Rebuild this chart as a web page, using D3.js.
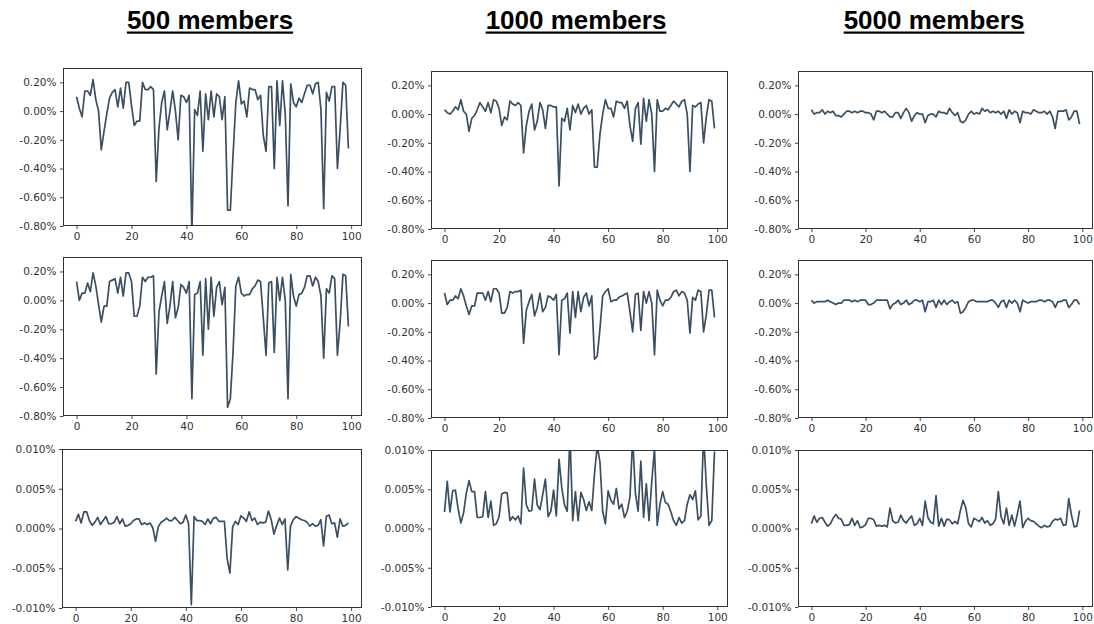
<!DOCTYPE html>
<html>
<head>
<meta charset="utf-8">
<script src="https://cdn.jsdelivr.net/npm/d3@7/dist/d3.min.js"></script>
<style>
  body { margin: 0; background: #ffffff; }
  svg { display: block; }
</style>
</head>
<body>
<svg id="chart" width="1094" height="624"></svg>
<script>
// ---- data (values in percent) ----
const steps = d3.range(100);
const groupTitles = ["500 members", "1000 members", "5000 members"];
const xTicks = [0, 20, 40, 60, 80, 100];
const yTicksWide = [-0.8, -0.6, -0.4, -0.2, 0, 0.2];
const yTicksNarrow = [-0.01, -0.005, 0, 0.005, 0.01];

// row 1
const m500a = [0.10,0.02,-0.04,0.14,0.14,0.11,0.22,0.08,0.00,-0.27,
  -0.14,-0.02,0.09,0.13,0.15,0.03,0.16,0.02,0.20,0.20,
  0.04,-0.10,-0.07,-0.07,0.20,0.15,0.15,0.17,0.15,-0.49,
  -0.12,0.06,0.14,-0.13,0.00,0.14,0.00,-0.20,0.11,0.10,
  0.06,0.11,-0.85,0.01,-0.03,0.14,-0.28,0.12,-0.06,0.14,
  -0.04,0.12,0.10,-0.06,0.10,-0.69,-0.69,-0.30,0.06,0.21,
  0.05,0.07,-0.04,0.16,0.15,0.15,0.08,0.11,-0.17,-0.28,
  0.17,0.17,-0.40,0.21,-0.10,0.21,-0.02,-0.66,0.19,0.06,
  0.03,0.09,0.06,0.12,0.18,0.18,0.12,0.19,0.20,0.01,
  -0.68,0.13,0.07,0.17,0.17,-0.40,-0.12,0.20,0.18,-0.26];
const m1000a = [0.03,0.01,0.00,0.02,0.05,0.03,0.10,0.02,0.00,-0.12,
  -0.03,-0.01,0.03,0.08,0.05,0.02,0.08,0.01,0.10,0.09,
  0.04,-0.08,-0.02,-0.04,0.09,0.07,0.06,0.08,0.06,-0.27,
  -0.08,0.02,0.07,-0.11,-0.05,0.08,0.03,-0.10,0.06,0.06,
  0.05,0.05,-0.50,-0.03,-0.05,0.04,-0.11,0.06,0.01,0.07,
  0.00,0.04,0.06,0.00,0.03,-0.37,-0.37,-0.14,0.00,0.10,
  0.04,0.04,-0.02,0.09,0.08,0.08,0.04,0.09,-0.08,-0.19,
  0.04,0.08,-0.21,0.11,-0.05,0.10,0.00,-0.40,0.10,0.02,
  0.02,0.04,0.03,0.06,0.09,0.07,0.05,0.09,0.10,0.00,
  -0.40,0.06,0.05,0.07,0.08,-0.20,-0.02,0.10,0.09,-0.10];
const m5000a = [0.03,0.00,0.01,0.01,0.03,0.00,0.02,0.01,0.02,-0.01,
  -0.01,-0.02,0.00,0.02,0.02,0.01,0.02,0.01,0.02,0.02,
  0.01,0.01,0.00,-0.04,0.02,0.02,0.01,0.02,0.00,-0.02,
  -0.02,0.01,0.01,-0.03,0.01,0.04,0.01,-0.05,-0.01,0.01,
  0.00,0.00,-0.06,-0.01,0.00,0.00,-0.02,0.02,0.01,0.01,
  0.00,0.04,0.01,-0.01,0.01,-0.05,-0.06,-0.04,0.00,0.02,
  0.00,0.01,0.00,0.04,0.02,0.03,0.01,0.02,0.01,0.02,
  0.00,0.02,-0.03,0.03,0.00,0.02,0.01,-0.06,0.02,0.01,
  0.01,0.00,0.03,0.02,0.01,0.01,0.02,0.00,0.02,-0.02,
  -0.10,0.02,0.02,0.02,0.03,-0.04,-0.02,0.02,0.02,-0.07];

// row 2
const m500b = [0.13,0.00,0.05,0.05,0.12,0.06,0.19,0.10,-0.03,-0.15,
  -0.04,-0.04,0.13,0.14,0.15,0.05,0.16,0.03,0.19,0.19,
  0.13,-0.11,-0.11,-0.04,0.16,0.13,0.16,0.16,0.17,-0.51,
  -0.08,0.03,0.13,-0.16,-0.04,0.13,-0.12,-0.05,0.11,0.09,
  0.05,0.13,-0.68,0.04,0.05,0.13,-0.38,0.15,-0.20,0.16,
  -0.11,0.09,0.13,-0.03,0.09,-0.74,-0.68,-0.35,0.10,0.16,
  0.05,0.03,0.04,0.04,0.08,0.10,0.14,0.13,-0.12,-0.38,
  0.12,0.13,-0.36,0.16,0.00,0.16,0.00,-0.68,0.18,0.03,
  -0.04,0.04,0.05,0.09,0.17,0.17,0.10,0.16,0.13,0.03,
  -0.40,0.08,0.05,0.17,0.15,-0.38,-0.15,0.18,0.17,-0.18];
const m1000b = [0.07,-0.01,0.02,0.02,0.05,0.03,0.10,0.05,-0.02,-0.08,
  -0.02,-0.02,0.07,0.07,0.07,0.02,0.08,0.01,0.10,0.10,
  0.07,-0.07,-0.07,-0.03,0.08,0.07,0.08,0.08,0.09,-0.28,
  -0.05,0.01,0.06,-0.09,-0.03,0.07,-0.06,-0.03,0.05,0.04,
  0.02,0.06,-0.36,0.02,0.03,0.07,-0.21,0.08,-0.10,0.08,
  -0.06,0.04,0.07,-0.02,0.05,-0.39,-0.37,-0.18,0.05,0.08,
  0.10,0.01,0.02,0.02,0.04,0.05,0.06,0.07,-0.06,-0.20,
  0.06,0.07,-0.19,0.08,0.00,0.08,0.00,-0.36,0.09,0.02,
  -0.02,0.02,0.02,0.04,0.08,0.09,0.05,0.08,0.07,0.02,
  -0.21,0.04,0.02,0.09,0.08,-0.20,-0.08,0.09,0.09,-0.10];
const m5000b = [0.02,0.00,0.01,0.01,0.01,0.01,0.02,0.01,0.00,-0.01,
  0.00,0.00,0.02,0.02,0.02,0.01,0.02,0.01,0.02,0.02,
  0.02,-0.01,-0.01,0.00,0.02,0.02,0.02,0.02,0.02,-0.04,
  -0.01,0.00,0.02,-0.01,0.00,0.02,-0.01,0.00,0.02,0.02,
  0.01,0.02,-0.06,0.01,0.01,0.02,-0.03,0.02,-0.01,0.02,
  -0.01,0.01,0.02,0.00,0.01,-0.07,-0.06,-0.03,0.01,0.02,
  0.02,0.01,0.01,0.01,0.01,0.01,0.02,0.02,0.00,-0.03,
  0.01,0.02,-0.03,0.02,0.00,0.02,0.00,-0.06,0.02,0.01,
  0.00,0.01,0.01,0.01,0.02,0.02,0.01,0.02,0.02,0.01,
  -0.03,0.01,0.01,0.02,0.02,-0.03,-0.01,0.02,0.02,-0.01];

// row 3
const m500c = [0.0009,0.0018,0.0007,0.0021,0.0021,0.0010,0.0004,0.0008,0.0014,0.0005,
  0.0010,0.0015,0.0006,0.0006,0.0008,0.0015,0.0006,0.0012,0.0003,0.0004,
  0.0006,0.0010,0.0012,0.0012,0.0005,0.0007,0.0005,0.0007,0.0001,-0.0016,
  0.0002,0.0008,0.0010,0.0013,0.0010,0.0010,0.0014,0.0010,0.0006,0.0008,
  0.0017,0.0006,-0.0096,0.0015,0.0010,0.0010,0.0009,0.0005,0.0012,0.0006,
  0.0013,0.0014,0.0009,0.0009,0.0009,-0.0038,-0.0056,0.0002,0.0009,0.0005,
  0.0016,0.0013,0.0009,0.0021,0.0010,0.0013,0.0005,0.0008,0.0007,0.0008,
  0.0022,0.0011,-0.0007,0.0004,0.0013,0.0005,0.0012,-0.0052,0.0003,0.0011,
  0.0015,0.0013,0.0011,0.0010,0.0008,0.0003,0.0006,0.0003,0.0004,0.0011,
  -0.0022,0.0015,0.0017,0.0006,0.0007,-0.0011,0.0012,0.0003,0.0004,0.0007];
const m1000c = [0.0021,0.0060,0.0021,0.0048,0.0049,0.0025,0.0007,0.0020,0.0045,0.0061,
  0.0047,0.0047,0.0014,0.0014,0.0015,0.0047,0.0014,0.0035,0.0004,0.0006,
  0.0015,0.0044,0.0046,0.0045,0.0010,0.0015,0.0011,0.0016,0.0006,0.0077,
  0.0030,0.0022,0.0023,0.0063,0.0030,0.0024,0.0043,0.0063,0.0015,0.0022,
  0.0049,0.0016,0.0088,0.0052,0.0030,0.0022,0.0120,0.0010,0.0047,0.0010,
  0.0046,0.0037,0.0023,0.0034,0.0023,0.0070,0.0105,0.0085,0.0022,0.0006,
  0.0048,0.0036,0.0031,0.0051,0.0025,0.0031,0.0014,0.0022,0.0040,0.0115,
  0.0045,0.0022,0.0086,0.0014,0.0057,0.0010,0.0060,0.0102,0.0004,0.0031,
  0.0047,0.0033,0.0031,0.0021,0.0010,0.0004,0.0014,0.0007,0.0010,0.0031,
  0.0043,0.0037,0.0048,0.0011,0.0016,0.0120,0.0055,0.0004,0.0010,0.0098];
const m5000c = [0.0006,0.0016,0.0008,0.0013,0.0014,0.0008,0.0003,0.0006,0.0013,0.0018,
  0.0013,0.0012,0.0004,0.0004,0.0005,0.0013,0.0004,0.0010,0.0001,0.0002,
  0.0005,0.0013,0.0013,0.0011,0.0003,0.0004,0.0003,0.0004,0.0002,0.0026,
  0.0010,0.0007,0.0008,0.0017,0.0010,0.0007,0.0012,0.0016,0.0004,0.0006,
  0.0013,0.0004,0.0035,0.0014,0.0008,0.0006,0.0042,0.0003,0.0013,0.0003,
  0.0012,0.0011,0.0006,0.0009,0.0006,0.0023,0.0036,0.0026,0.0006,0.0002,
  0.0013,0.0011,0.0009,0.0014,0.0007,0.0010,0.0004,0.0006,0.0012,0.0047,
  0.0015,0.0006,0.0026,0.0004,0.0017,0.0003,0.0018,0.0035,0.0001,0.0009,
  0.0013,0.0010,0.0009,0.0006,0.0003,0.0001,0.0004,0.0002,0.0003,0.0009,
  0.0012,0.0011,0.0013,0.0004,0.0005,0.0038,0.0017,0.0002,0.0003,0.0023];

// ---- layout ----
const LINE_COLOR = "#3a4f62";
const INK = "#333333";
const fmtWide = v => v.toFixed(2) + "%";
const fmtNarrow = v => v.toFixed(3) + "%";

const wide = { domain: [-0.8, 0.3], ticks: yTicksWide, fmt: fmtWide };
const narrow = { domain: [-0.01, 0.01], ticks: yTicksNarrow, fmt: fmtNarrow };

const panels = [
  { values: m500a,  box: [63, 68, 362, 226],  y: wide },
  { values: m1000a, box: [431, 71, 728, 229], y: wide },
  { values: m5000a, box: [798, 71, 1093, 229], y: wide },
  { values: m500b,  box: [63, 257, 362, 416], y: wide },
  { values: m1000b, box: [431, 260, 728, 418], y: wide },
  { values: m5000b, box: [798, 260, 1093, 418], y: wide },
  { values: m500c,  box: [62, 449, 362, 608], y: narrow },
  { values: m1000c, box: [431, 450, 728, 607], y: narrow },
  { values: m5000c, box: [798, 450, 1093, 607], y: narrow }
];

const titleCenters = [210, 576, 934];

const svg = d3.select("#chart");

// column headings, underlined
groupTitles.forEach((t, i) => {
  const g = svg.append("g");
  const txt = g.append("text")
    .attr("x", titleCenters[i])
    .attr("y", 29)
    .attr("text-anchor", "middle")
    .attr("font-family", "'Liberation Sans', Arial, sans-serif")
    .attr("font-weight", "bold")
    .attr("font-size", 26)
    .attr("fill", "#000")
    .text(t);
  const bb = txt.node().getBBox();
  g.append("rect")
    .attr("x", bb.x)
    .attr("y", 31.5)
    .attr("width", bb.width)
    .attr("height", 2.2)
    .attr("fill", "#000");
});

panels.forEach((p, idx) => {
  const [x0, y0, x1, y1] = p.box;
  const x = d3.scaleLinear().domain([-4.95, 103.95]).range([x0, x1]);
  const y = d3.scaleLinear().domain(p.y.domain).range([y1, y0]);

  const g = svg.append("g");

  const clipId = "clip" + idx;
  svg.append("clipPath").attr("id", clipId)
    .append("rect")
    .attr("x", x0).attr("y", y0)
    .attr("width", x1 - x0).attr("height", y1 - y0);

  const line = d3.line()
    .x((d, i) => x(steps[i]))
    .y(d => y(d));

  g.append("path")
    .datum(p.values)
    .attr("clip-path", `url(#${clipId})`)
    .attr("fill", "none")
    .attr("stroke", LINE_COLOR)
    .attr("stroke-width", 1.7)
    .attr("stroke-linejoin", "round")
    .attr("d", line);

  // frame
  g.append("rect")
    .attr("x", x0 + 0.5).attr("y", y0 + 0.5)
    .attr("width", x1 - x0 - 1).attr("height", y1 - y0 - 1)
    .attr("fill", "none")
    .attr("stroke", INK)
    .attr("stroke-width", 1);

  const yAxis = d3.axisLeft(y)
    .tickValues(p.y.ticks)
    .tickFormat(p.y.fmt)
    .tickSize(3.5)
    .tickPadding(3.5);
  const xAxis = d3.axisBottom(x)
    .tickValues(xTicks)
    .tickFormat(d3.format("d"))
    .tickSize(3.5)
    .tickPadding(3.5);

  const ya = g.append("g").attr("transform", `translate(${x0 + 0.5},0)`).call(yAxis);
  const xa = g.append("g").attr("transform", `translate(0,${y1 - 0.5})`).call(xAxis);

  [ya, xa].forEach(a => {
    a.select(".domain").remove();
    a.selectAll("line").attr("stroke", INK).attr("stroke-width", 0.9);
    a.selectAll("text")
      .attr("fill", INK)
      .attr("font-family", "'DejaVu Sans', sans-serif")
      .attr("font-size", 10.5);
  });
});
</script>
</body>
</html>
